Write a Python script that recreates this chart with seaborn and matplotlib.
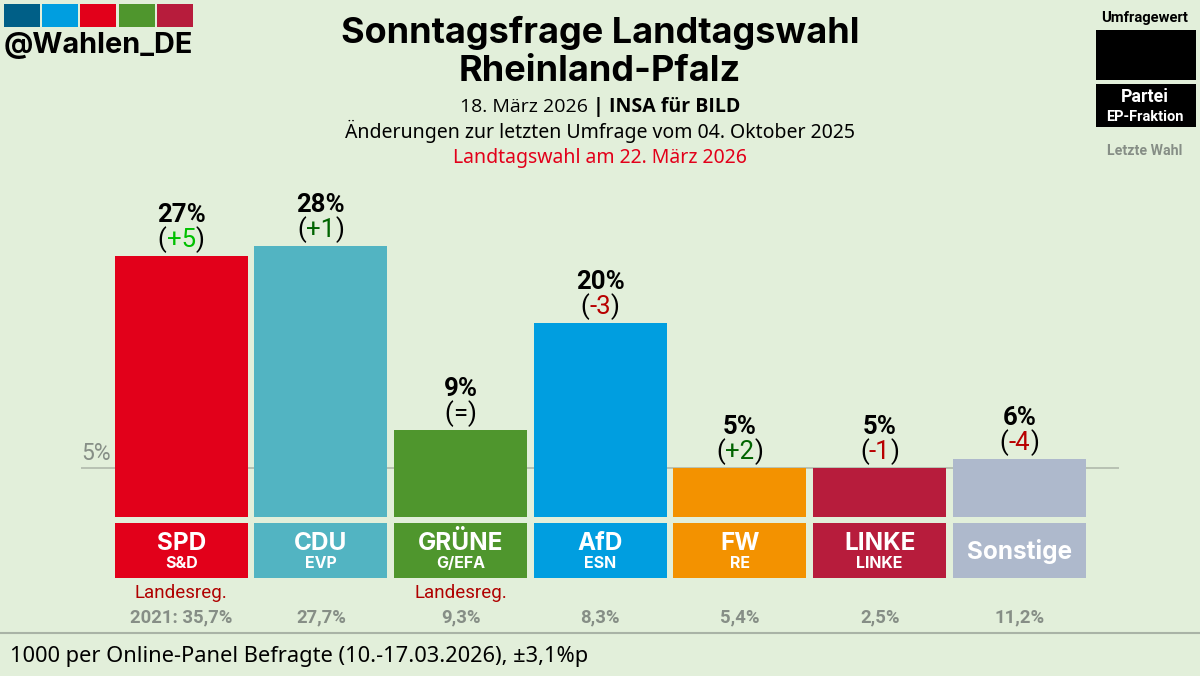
#!/usr/bin/env python3
import pandas as pd
import matplotlib
matplotlib.use("Agg")
import matplotlib.pyplot as plt
from matplotlib.patches import Rectangle
import seaborn as sns

# === Data ===
parties = ["SPD", "CDU", "GRÜNE", "AfD", "FW", "LINKE", "Sonstige"]
ep_groups = ["S&D", "EVP", "G/EFA", "ESN", "RE", "LINKE", ""]
poll_values = [27, 28, 9, 20, 5, 5, 6]
changes = ["+5", "+1", "=", "-3", "+2", "-1", "-4"]
last_election = ["2021: 35,7%", "27,7%", "9,3%", "8,3%", "5,4%", "2,5%", "11,2%"]
government = ["Landesreg.", "", "Landesreg.", "", "", "", ""]
party_colors = ["#E2001A", "#52B4C2", "#4F962D", "#009EE0", "#F39200", "#B71C3C", "#AEB9CC"]
change_colors = ["#00C000", "#006400", "#000000", "#B80000", "#006400", "#B80000", "#B80000"]
logo_colors = ["#005F87", "#009EE0", "#E2001A", "#4F962D", "#B71C3C"]

BG = "#E2EFDA"
W, H = 1200, 676
GREY = "#868E86"
RED = "#B00000"
HEAD_FONT = "Inter"
SUB_FONT = "Open Sans"

sns.set_theme(style="white")
plt.rcParams["font.family"] = ["Roboto", "DejaVu Sans"]

fig = plt.figure(figsize=(W / 100, H / 100), dpi=100, facecolor=BG)
df = pd.DataFrame({"party": parties, "value": poll_values})


def make_axes(left, top, right, bottom):
    ax = fig.add_axes([left / W, 1 - bottom / H, (right - left) / W, (bottom - top) / H])
    ax.set_facecolor("none")
    ax.axis("off")
    return ax


def px(x, y, s, **kw):
    return fig.text(x / W, 1 - y / H, s, **kw)


def run_text(cx, y, parts, **kw):
    # centre a row of differently styled pieces on cx
    renderer = fig.canvas.get_renderer()
    items = [px(0, y, s, va="baseline", ha="left", **{**kw, **st}) for s, st in parts]
    widths = [t.get_window_extent(renderer).width for t in items]
    x = cx - sum(widths) / 2
    for t, w in zip(items, widths):
        t.set_x(x / W)
        x += w


# === Bars ===
ax = make_axes(81, 170, 1119, 516.5)
PITCH = 139.7
XLIM = (-0.5 - 30.3 / PITCH, 6.5 + 29.8 / PITCH)
ax.axhline(5, color="#B0BAAC", lw=1.2, zorder=0)
sns.barplot(data=df, x="party", y="value", hue="party", palette=party_colors, order=parties,
            hue_order=parties, width=0.952, legend=False, ax=ax, saturation=1, zorder=2, linewidth=0)
ax.set_xlim(XLIM)
ax.set_ylim(0, 346.5 / 9.66)
ax.axis("off")

# === Party boxes ===
ax_box = make_axes(81, 523, 1119, 578)
sns.barplot(x=parties, y=[1] * len(parties), hue=parties, palette=party_colors, order=parties,
            hue_order=parties, width=0.952, legend=False, ax=ax_box, saturation=1, linewidth=0)
ax_box.set_xlim(XLIM)
ax_box.set_ylim(0, 1)
ax_box.axis("off")

for i, party in enumerate(parties):
    cx = 81 + (i - XLIM[0]) * (1038 / (XLIM[1] - XLIM[0]))
    top = 516.5 - poll_values[i] * 9.66
    px(cx, top - 34, f"{poll_values[i]}%", ha="center", va="baseline", fontsize=18.5, fontweight="bold", color="black")
    run_text(cx, top - 9, [("(", {"color": "black"}), (changes[i], {"color": change_colors[i]}),
                           (")", {"color": "black"})], fontsize=18.5)
    if ep_groups[i]:
        px(cx, 550, party, ha="center", va="baseline", fontsize=17.5, fontweight="bold", color="white", family=HEAD_FONT)
        px(cx, 568, ep_groups[i], ha="center", va="baseline", fontsize=11.5, fontweight="bold", color="white", family=HEAD_FONT)
    else:
        px(cx, 559, party, ha="center", va="baseline", fontsize=17.5, fontweight="bold", color="white", family=HEAD_FONT)
    if government[i]:
        px(cx, 598, government[i], ha="center", va="baseline", fontsize=13.5, color=RED)
    px(cx, 622, last_election[i], ha="center", va="baseline", fontsize=13.3, fontweight="bold", color=GREY)

px(81, 460, "5%", ha="left", va="baseline", fontsize=16.5, color=GREY)

# === Title block ===
px(600, 43, "Sonntagsfrage Landtagswahl", ha="center", va="baseline", fontsize=26, fontweight="bold", family=HEAD_FONT, color="black")
px(600, 81, "Rheinland-Pfalz", ha="center", va="baseline", fontsize=26, fontweight="bold", family=HEAD_FONT, color="black")
run_text(600, 112, [("18. März 2026 ", {}), ("| INSA für BILD", {"fontweight": "bold"})],
         fontsize=14, family=SUB_FONT, color="black")
px(600, 138, "Änderungen zur letzten Umfrage vom 04. Oktober 2025", ha="center", va="baseline",
   fontsize=14, family="Noto Sans", color="black")
px(600, 163, "Landtagswahl am 22. März 2026", ha="center", va="baseline", fontsize=14, family="Noto Sans", color="#E2001A")

# === Logo ===
for x0, c in zip([4, 42, 80, 119, 157], logo_colors):
    fig.add_artist(Rectangle((x0 / W, 1 - 27 / H), 36 / W, 23 / H, transform=fig.transFigure, color=c, lw=0))
px(4, 53, "@Wahlen_DE", ha="left", va="baseline", fontsize=20.8, fontweight="bold", family=HEAD_FONT, color="black")

# === Legend ===
px(1145, 22, "Umfragewert", ha="center", va="baseline", fontsize=10.6, fontweight="bold", color="black")
fig.add_artist(Rectangle((1096 / W, 1 - 80 / H), 100 / W, 50 / H, transform=fig.transFigure, color="black", lw=0))
fig.add_artist(Rectangle((1096 / W, 1 - 127 / H), 100 / W, 43 / H, transform=fig.transFigure, color="black", lw=0))
px(1145, 102, "Partei", ha="center", va="baseline", fontsize=12.8, fontweight="bold", color="white")
px(1145, 121, "EP-Fraktion", ha="center", va="baseline", fontsize=10.5, fontweight="bold", color="white")
px(1145, 155, "Letzte Wahl", ha="center", va="baseline", fontsize=10.2, fontweight="bold", color=GREY)

# === Footer ===
fig.add_artist(plt.Line2D([0, 1], [1 - 632.5 / H] * 2, transform=fig.transFigure, color="#A9B3A6", lw=1.5))
px(10, 662, "1000 per Online-Panel Befragte (10.-17.03.2026), ±3,1%p", ha="left", va="baseline",
   fontsize=15.7, family="Noto Sans", color="black")

fig.savefig("out.png", dpi=100, facecolor=BG)
